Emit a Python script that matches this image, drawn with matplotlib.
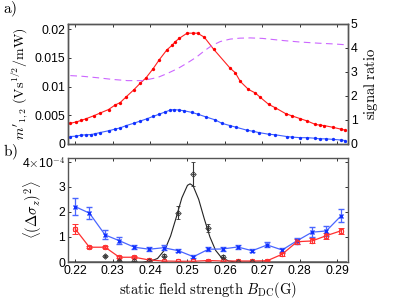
import matplotlib
matplotlib.use("Agg")
import matplotlib.pyplot as plt
import numpy as np

plt.rcParams['mathtext.fontset'] = 'cm'
plt.rcParams['font.family'] = ['Liberation Sans', 'DejaVu Sans']

# ---------------- top panel data ----------------
red_x = [0.2187, 0.2203, 0.2216, 0.2229, 0.2249, 0.2267, 0.2289, 0.2307, 0.2320, 0.2336,
         0.2356, 0.2374, 0.2389, 0.2408, 0.2425, 0.2445, 0.2459, 0.2467, 0.2478, 0.2499,
         0.2515, 0.2527, 0.2545, 0.2570, 0.2614, 0.2628, 0.2641, 0.2663, 0.2681, 0.2695,
         0.2717, 0.2735, 0.2762, 0.2779, 0.2802, 0.2820, 0.2842, 0.2853, 0.2866, 0.2889,
         0.2909, 0.2922]
red_y = [0.0036, 0.00385, 0.0041, 0.0044, 0.0049, 0.0054, 0.0060, 0.0068, 0.0072, 0.0082,
         0.0094, 0.0106, 0.0115, 0.0131, 0.0147, 0.0164, 0.0172, 0.0178, 0.0184, 0.0193,
         0.0193, 0.0193, 0.0186, 0.0165, 0.0132, 0.0124, 0.0109, 0.0095, 0.0089, 0.0081,
         0.0069, 0.0063, 0.0053, 0.0049, 0.0044, 0.0040, 0.0034, 0.0033, 0.0032, 0.0029,
         0.0026, 0.0024]

blue_x = [0.2187, 0.2203, 0.2216, 0.2229, 0.2243, 0.2254, 0.2267, 0.2289, 0.2307, 0.2320,
          0.2336, 0.2356, 0.2374, 0.2392, 0.2408, 0.2425, 0.2441, 0.2454, 0.2465, 0.2478,
          0.2490, 0.2512, 0.2527, 0.2550, 0.2574, 0.2592, 0.2614, 0.2631, 0.2659, 0.2676,
          0.2690, 0.2717, 0.2735, 0.2765, 0.2779, 0.2802, 0.2820, 0.2842, 0.2853, 0.2870,
          0.2889, 0.2909, 0.2922]
blue_y = [0.0013, 0.00137, 0.00155, 0.0016, 0.00165, 0.0018, 0.0020, 0.0023, 0.0026, 0.0028,
          0.0032, 0.0036, 0.0040, 0.0044, 0.0048, 0.0052, 0.0056, 0.0059, 0.0060, 0.0059,
          0.0058, 0.0055, 0.0052, 0.0047, 0.0042, 0.0036, 0.0032, 0.0029, 0.0024, 0.0022,
          0.0020, 0.0017, 0.0016, 0.0013, 0.0012, 0.0011, 0.0011, 0.0010, 0.0009, 0.0009,
          0.0008, 0.0007, 0.0006]

ratio_x = [0.2187, 0.2220, 0.2260, 0.2300, 0.2340, 0.2380, 0.2420, 0.2445, 0.2475, 0.2500,
           0.2524, 0.2545, 0.2565, 0.2588, 0.2614, 0.2640, 0.2668, 0.2700, 0.2756, 0.2800,
           0.2850, 0.2890, 0.2927]
ratio_y = [2.85, 2.82, 2.76, 2.69, 2.64, 2.64, 2.77, 2.93, 3.15, 3.38,
           3.62, 3.88, 4.10, 4.27, 4.37, 4.41, 4.42, 4.40, 4.31, 4.25,
           4.20, 4.17, 4.13]

# ---------------- bottom panel data (units of 1e-4) ----------------
bx = [0.2200, 0.2238, 0.2280, 0.2318, 0.2358, 0.2398, 0.2436, 0.2476, 0.2516, 0.2556,
      0.2594, 0.2634, 0.2673, 0.2713, 0.2753, 0.2793, 0.2833, 0.2871, 0.2911]
b_blue = [2.21, 1.95, 1.08, 0.85, 0.59, 0.51, 0.57, 0.45, 0.21, 0.51,
          0.52, 0.60, 0.45, 0.68, 0.48, 0.85, 1.19, 1.24, 1.85]
b_blue_err = [0.33, 0.23, 0.18, 0.14, 0.09, 0.08, 0.09, 0.07, 0.05, 0.08,
              0.08, 0.09, 0.07, 0.10, 0.08, 0.12, 0.20, 0.20, 0.25]
b_red = [1.32, 0.59, 0.59, 0.19, 0.19, 0.08, 0.04, 0.03, 0.03, 0.06,
         0.04, 0.04, 0.04, 0.05, 0.31, 0.81, 0.84, 1.05, 1.25]
b_red_err = [0.21, 0.05, 0.05, 0.04, 0.04, 0.02, 0.02, 0.02, 0.02, 0.02,
             0.02, 0.02, 0.02, 0.02, 0.06, 0.10, 0.10, 0.12, 0.12]
k_x = [0.2280, 0.2318, 0.2358, 0.2398, 0.2436, 0.2476, 0.2516, 0.2556, 0.2594, 0.2634, 0.2673]
k_y = [0.25, 0.05, 0.03, 0.03, 0.25, 1.97, 3.52, 1.35, 0.21, 0.02, 0.01]
k_err = [0.04, 0.02, 0.02, 0.02, 0.05, 0.27, 0.49, 0.15, 0.05, 0.02, 0.02]

fit_x = [0.2185, 0.2360, 0.2380, 0.2400, 0.2420, 0.2440, 0.2455, 0.2470, 0.2485, 0.2500,
         0.2507, 0.2515, 0.2530, 0.2545, 0.2560, 0.2575, 0.2590, 0.2610, 0.2630, 0.2650, 0.2925]
fit_y = [0.0, 0.0, 0.0, 0.03, 0.14, 0.50, 1.04, 1.78, 2.56, 3.06,
         3.12, 3.04, 2.50, 1.72, 1.00, 0.47, 0.19, 0.04, 0.0, 0.0, 0.0]

xticks = [0.22, 0.23, 0.24, 0.25, 0.26, 0.27, 0.28, 0.29]
xticklabels = ['0.22', '0.23', '0.24', '0.25', '0.26', '0.27', '0.28', '0.29']

spine_c = '#555555'
fig = plt.figure(figsize=(3.99, 3.03), dpi=100)

def style(ax):
    for s in ax.spines.values():
        s.set_color(spine_c)
        s.set_linewidth(1.0)
    ax.tick_params(direction='in', length=2.5, width=0.7, color='#333333', labelsize=8.8, pad=2)

# ---------------- top ----------------
ax1 = fig.add_axes([0.1697, 0.5248, 0.7025, 0.396])
ax1.plot(red_x, red_y, '-', color='#ff2020', lw=0.8)
ax1.plot(red_x, red_y, 'o', color='#ff0000', ms=2.4, mew=0)
ax1.plot(blue_x, blue_y, '-', color='#4060ff', lw=0.8)
ax1.plot(blue_x, blue_y, 'o', color='#1030ff', ms=2.4, mew=0)
ax1.set_xlim(0.218, 0.2929)
ax1.set_ylim(0, 0.0209)
ax1.set_yticks([0, 0.005, 0.01, 0.015, 0.02])
ax1.set_yticklabels(['0', '0.005', '0.01', '0.015', '0.02'])
ax1.set_xticks(xticks)
ax1.set_xticklabels([])
style(ax1)
ax1.tick_params(top=True)
ax1.set_ylabel(r"$m'_{1,2}\ \mathrm{(Vs^{1/2}/mW)}$", fontsize=10, labelpad=3)

ax2 = ax1.twinx()
ax2.plot(ratio_x, ratio_y, '--', color='#cc66ff', lw=0.8, dashes=(6, 4))
ax2.set_ylim(0, 5)
ax2.set_yticks([0, 1, 2, 3, 4, 5])
style(ax2)
ax2.set_ylabel(r"$\mathrm{signal\ ratio}$", fontsize=10.5, labelpad=3)

# ---------------- bottom ----------------
ax3 = fig.add_axes([0.1697, 0.1353, 0.7025, 0.3432])
ax3.plot(fit_x, fit_y, '-', color='#222222', lw=0.8)
ax3.errorbar(bx, b_blue, yerr=b_blue_err, fmt='-x', color='#4a66ff', ms=2.5, mew=1.0,
             lw=0.9, elinewidth=0.9, capsize=2, mec='#1030ff')
ax3.errorbar(bx, b_red, yerr=b_red_err, fmt='-o', color='#ff3030', ms=3.2, mfc='none',
             mew=0.7, lw=0.9, elinewidth=0.9, capsize=2)
ax3.plot(bx, b_red, 's', color='#ff3030', ms=2.3, mfc='none', mew=0.6)
ax3.errorbar(k_x, k_y, yerr=k_err, fmt='D', color='#333333', ms=2.8, mfc='none', mew=0.6,
             elinewidth=0.8, capsize=1.5)
ax3.plot(k_x, k_y, '+', color='#333333', ms=2.5, mew=0.6)
ax3.set_xlim(0.218, 0.2929)
ax3.set_ylim(0, 4.15)
ax3.set_yticks([0, 1, 2, 3, 4])
ax3.set_yticklabels(['0', '1', '2', '3', r'4$\times$10$^{-4}$'])
ax3.set_xticks(xticks)
ax3.set_xticklabels(xticklabels)
style(ax3)
ax3.tick_params(top=True, right=True)
ax3.set_xlabel(r"$\mathrm{static\ field\ strength}\ B_{\rm DC}\mathrm{(G)}$", fontsize=10.5, labelpad=2)
ax3.set_ylabel(r"$\langle(\Delta\sigma_z)^2\rangle$", fontsize=10.5)
ax3.yaxis.set_label_coords(-0.085, 0.5)

fig.text(0.008, 0.955, r"$\mathrm{a)}$", fontsize=11)
fig.text(0.008, 0.485, r"$\mathrm{b)}$", fontsize=11)

fig.savefig('out.png', dpi=100)
